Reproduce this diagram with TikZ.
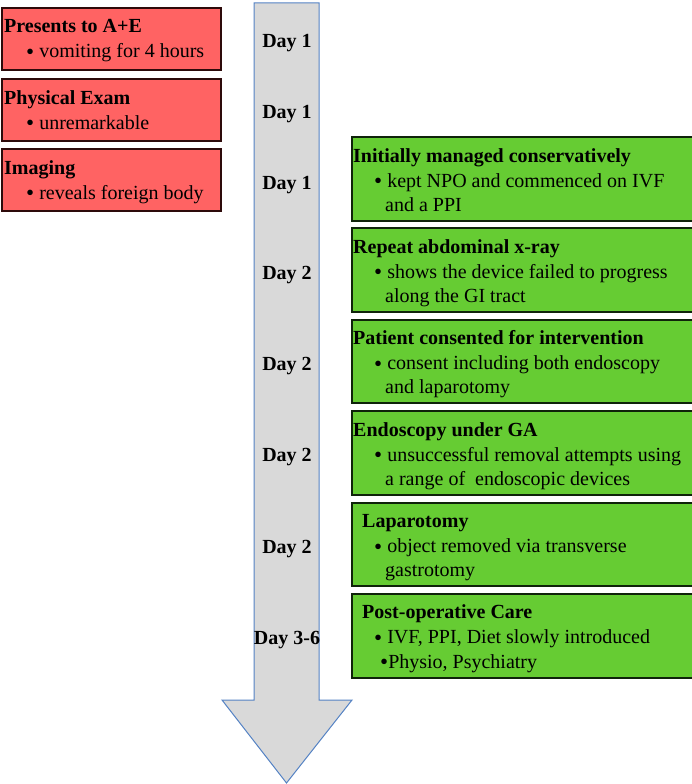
\documentclass[tikz,border=0pt]{standalone}
\usepackage{fontspec}
\setmainfont{Liberation Serif}
\newfontfamily\tnr{Liberation Serif}
\definecolor{redfill}{RGB}{255,99,99}
\definecolor{redborder}{RGB}{45,10,10}
\definecolor{greenfill}{RGB}{102,204,51}
\definecolor{greenborder}{RGB}{15,35,10}
\definecolor{arrowfill}{RGB}{217,217,217}
\definecolor{arrowborder}{RGB}{84,130,196}
\newcommand\bul{\raisebox{-1.5pt}{\fontsize{23}{24}\selectfont•}}
\begin{document}
\begin{tikzpicture}[x=1pt,y=-1pt,
  redbox/.style={draw=redborder,fill=redfill,line width=2pt},
  greenbox/.style={draw=greenborder,fill=greenfill,line width=2pt},
  arrowshape/.style={draw=arrowborder,fill=arrowfill,line width=1pt,line join=miter},
  txt/.style={anchor=base west,inner sep=0pt,font=\tnr\fontsize{20}{24}\selectfont},
  ttl/.style={anchor=base west,inner sep=0pt,font=\tnr\fontsize{20}{24}\selectfont\bfseries},
  daylbl/.style={anchor=base,inner sep=0pt,font=\tnr\fontsize{20}{24}\selectfont\bfseries}]
\useasboundingbox (0,0) rectangle (691,784);
% timeline arrow
\draw[arrowshape] (254,3) -- (319,3) -- (319,700) -- (352,700) -- (286.5,783) -- (222,700) -- (254,700) -- cycle;
% red boxes
\path[redbox] (2,8) rectangle (221,70);
\path[redbox] (2,79) rectangle (221,141);
\path[redbox] (2,149) rectangle (221,211);
\node[ttl] (r1t) at (4,33) {Presents to A+E};
\node[txt] (r1b) at (26,58) {\bul\ vomiting for 4 hours};
\node[ttl] (r2t) at (4,104) {Physical Exam};
\node[txt] (r2b) at (26,129) {\bul\ unremarkable};
\node[ttl] (r3t) at (4,174) {Imaging};
\node[txt] (r3b) at (26,199) {\bul\ reveals foreign body};
% green boxes
\path[greenbox] (352,137) rectangle (694,220.5);
\path[greenbox] (352,228.4) rectangle (694,312);
\path[greenbox] (352,319.8) rectangle (694,403.3);
\path[greenbox] (352,411.2) rectangle (694,494.7);
\path[greenbox] (352,502.6) rectangle (694,586);
\path[greenbox] (352,594) rectangle (694,678);
\node[ttl] (g1t) at (353,162) {Initially managed conservatively};
\node[txt] (g1b) at (374,187) {\bul\ kept NPO and commenced on IVF};
\node[txt] (g1c) at (385,211) {and a PPI};
\node[ttl] (g2t) at (353,253.4) {Repeat abdominal x-ray};
\node[txt] (g2b) at (374,278.4) {\bul\ shows the device failed to progress};
\node[txt] (g2c) at (385,302.4) {along the GI tract};
\node[ttl] (g3t) at (353,344.8) {Patient consented for intervention};
\node[txt] (g3b) at (374,369.8) {\bul\ consent including both endoscopy};
\node[txt] (g3c) at (385,393.8) {and laparotomy};
\node[ttl] (g4t) at (353,436.2) {Endoscopy under GA};
\node[txt] (g4b) at (374,461.2) {\bul\ unsuccessful removal attempts using};
\node[txt] (g4c) at (385,485.2) {a range of\ \ endoscopic devices};
\node[ttl] (g5t) at (362,527.6) {Laparotomy};
\node[txt] (g5b) at (374,552.6) {\bul\ object removed via transverse};
\node[txt] (g5c) at (385,576.6) {gastrotomy};
\node[ttl] (g6t) at (362,618.5) {Post-operative Care};
\node[txt] (g6b) at (374,643.5) {\bul\ IVF, PPI, Diet slowly introduced};
\node[txt] (g6c) at (380,668) {\bul Physio, Psychiatry};
% day labels
\node[daylbl] (d1) at (287,48) {Day 1};
\node[daylbl] (d2) at (287,118) {Day 1};
\node[daylbl] (d3) at (287,189) {Day 1};
\node[daylbl] (d4) at (287,279) {Day 2};
\node[daylbl] (d5) at (287,370) {Day 2};
\node[daylbl] (d6) at (287,461) {Day 2};
\node[daylbl] (d7) at (287,553) {Day 2};
\node[daylbl] (d8) at (287,644) {Day 3-6};
\end{tikzpicture}
\end{document}
